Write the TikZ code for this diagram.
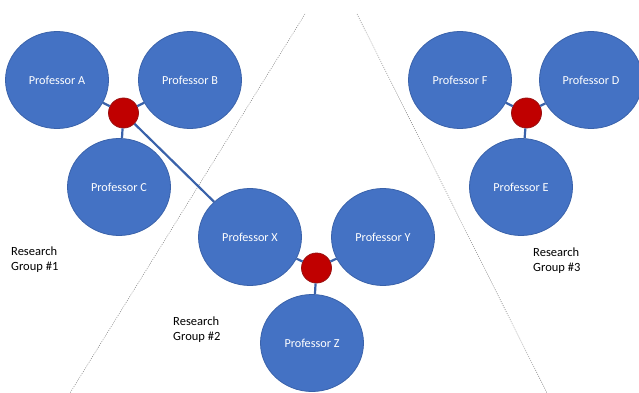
\documentclass[tikz,border=0pt]{standalone}
\usepackage{fontspec}
\setmainfont{Carlito}
\usetikzlibrary{shapes.geometric}
\definecolor{profblue}{HTML}{4472C4}
\definecolor{profrim}{HTML}{3A62AA}
\definecolor{hubred}{HTML}{C00000}
\definecolor{hubrim}{HTML}{9A1010}
\tikzstyle{prof}=[ellipse, draw=profrim, fill=profblue, line width=0.8pt, minimum width=103pt, minimum height=97pt, inner sep=0pt, text=white, font=\fontsize{12.2}{14}\selectfont]
\tikzstyle{hub}=[circle, draw=hubrim, fill=hubred, line width=0.8pt, minimum size=30pt, inner sep=0pt]
\tikzstyle{link}=[draw=profrim, line width=2.2pt]
\tikzstyle{divider}=[draw=gray, line width=0.5pt, dash pattern=on 1pt off 1.2pt]
\tikzstyle{grouplabel}=[anchor=west, align=left, inner sep=0pt, font=\fontsize{12.5}{15}\selectfont]
\newcommand{\prof}{\node[prof]}
\newcommand{\hub}{\node[hub]}

\begin{document}
\begin{tikzpicture}[x=1pt,y=-1pt]
            \useasboundingbox (0,0) rectangle (639,393);
            \coordinate (l1top) at (305,14);
            \coordinate (l1bot) at (70,393);
            \coordinate (l2top) at (357,14);
            \coordinate (l2bot) at (547,393);
            \draw[divider] (l1top) -- (l1bot);
            \draw[divider] (l2top) -- (l2bot);
            \prof (pa) at (57,80){Professor A};
            \prof (pb) at (190,80){Professor B};
            \prof (pc) at (119,187){Professor C};
            \prof (px) at (250,237){Professor X};
            \prof (py) at (383,237){Professor Y};
            \prof (pz) at (312,343){Professor Z};
            \prof (pf) at (460,80){Professor F};
            \prof (pd) at (591,80){Professor D};
            \prof (pe) at (521,187){Professor E};
            \hub (h1) at (123.5,113){};
            \hub (h2) at (316.5,268){};
            \hub (h3) at (526.5,113){};
            \path[link]
                (h1) edge (pa) edge (pb) edge (pc) edge (px)
                (h2) edge (px) edge (py) edge (pz)
                (h3) edge (pf) edge (pd) edge (pe)
            ;
            \node[grouplabel] (g1) at (11,260){Research\\Group \#1};
            \node[grouplabel] (g2) at (173,330){Research\\Group \#2};
            \node[grouplabel] (g3) at (533,261){Research\\Group \#3};
        \end{tikzpicture}
\end{document}
